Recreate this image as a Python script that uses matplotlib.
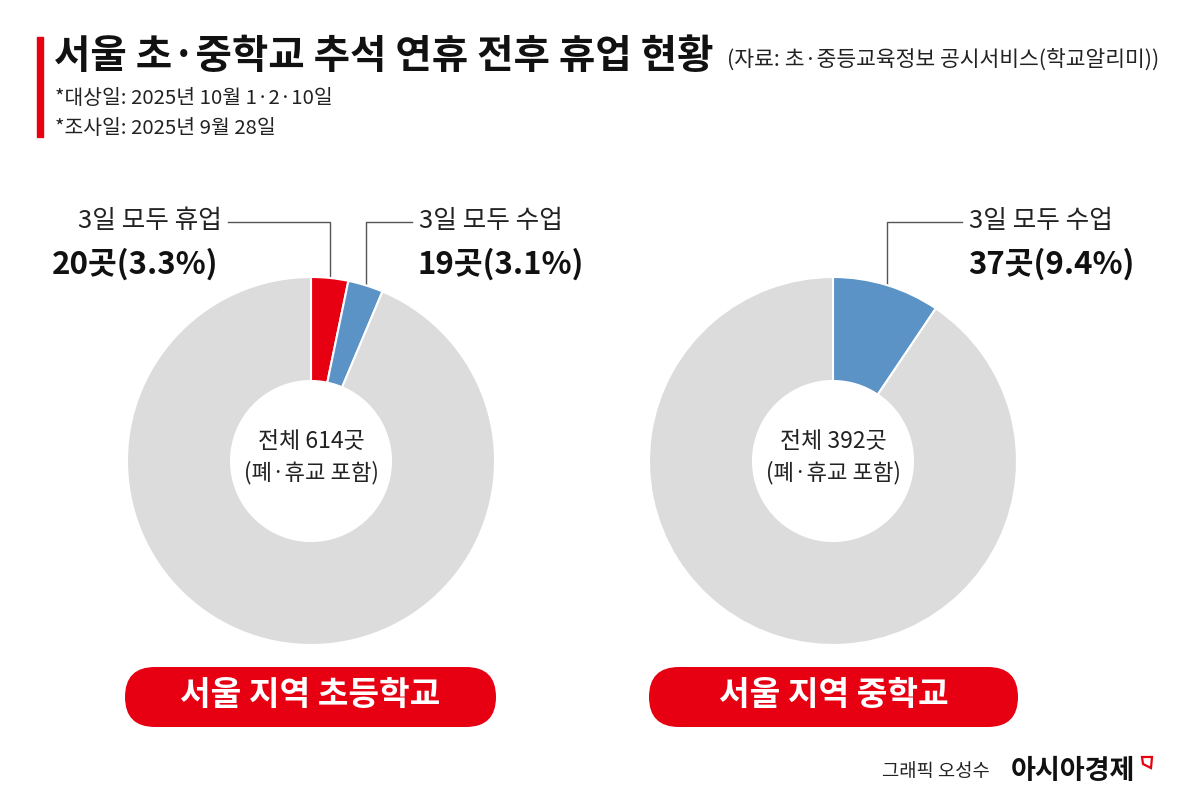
import numpy as np
import matplotlib
matplotlib.use("Agg")
import matplotlib.pyplot as plt
from matplotlib.patches import FancyBboxPatch, Polygon

plt.rcParams['font.family'] = ['Noto Sans CJK KR', 'DejaVu Sans']

# data
elem_labels = ['3일 모두 휴업', '3일 모두 수업', '기타']
elem_values = [20, 19, 575]
elem_total = 614
mid_labels = ['3일 모두 수업', '기타']
mid_values = [37, 355]
mid_total = 392

RED = '#e60012'
BLUE = '#5b93c7'
GRAY = '#dcdcdc'

W, H = 1189, 810
fig = plt.figure(figsize=(W / 100, H / 100), dpi=100)
fig.patch.set_facecolor('white')

# background axes in pixel coords
bg = fig.add_axes([0, 0, 1, 1])
bg.set_xlim(0, W)
bg.set_ylim(H, 0)
bg.axis('off')

R = 184  # outer radius in px
HOLE = 80


def donut(cx, cy, values, colors):
    ax = fig.add_axes([(cx - R) / W, 1 - (cy + R) / H, 2 * R / W, 2 * R / H])
    ax.pie(values, colors=colors, startangle=90, counterclock=False, radius=1,
           wedgeprops=dict(width=1 - HOLE / R, edgecolor='white', linewidth=1.5))
    ax.set_xlim(-1, 1)
    ax.set_ylim(-1, 1)
    ax.set_aspect('equal')
    ax.axis('off')
    return ax


def leader(cx, cy, values, idx, line_y, line_x_end):
    # line from wedge mid-angle (outer edge) up to line_y, then horizontal
    total = sum(values)
    start = sum(values[:idx]) / total
    frac = start + values[idx] / total / 2
    ang = np.deg2rad(90 - frac * 360)
    px = cx + R * np.cos(ang)
    py = cy - R * np.sin(ang)
    bg.plot([px, px, line_x_end], [py, line_y, line_y], color='#555555', lw=1, zorder=5)


# title block
bg.add_patch(plt.Rectangle((37, 37), 6, 100, color=RED))
bg.text(54, 57, '서울 초·중학교 추석 연휴 전후 휴업 현황', fontsize=28.5, fontweight='bold',
        va='center', ha='left', color='#111111')
bg.text(727, 60, '(자료: 초·중등교육정보 공시서비스(학교알리미))', fontsize=15.5,
        va='center', ha='left', color='#222222')
bg.text(55, 99, '*대상일: 2025년 10월 1·2·10일', fontsize=14.7, va='center', ha='left', color='#222222')
bg.text(55, 129, '*조사일: 2025년 9월 28일', fontsize=14.7, va='center', ha='left', color='#222222')

# left donut
lcx, lcy = 311, 461
donut(lcx, lcy, elem_values, [RED, BLUE, GRAY])
leader(lcx, lcy, elem_values, 0, 222, 228)
leader(lcx, lcy, elem_values, 1, 222, 412)
bg.text(222, 221, elem_labels[0], fontsize=18.5, ha='right', va='center', color='#222222')
bg.text(218, 264, f'{elem_values[0]}곳({elem_values[0] / elem_total * 100:.1f}%)', fontsize=22.5,
        fontweight='bold', ha='right', va='center', color='#111111')
bg.text(419, 221, elem_labels[1], fontsize=18.5, ha='left', va='center', color='#222222')
bg.text(418, 264, f'{elem_values[1]}곳({elem_values[1] / elem_total * 100:.1f}%)', fontsize=22.5,
        fontweight='bold', ha='left', va='center', color='#111111')
bg.text(lcx, 441, f'전체 {elem_total}곳', fontsize=16.5, ha='center', va='center', color='#222222')
bg.text(lcx, 473, '(폐·휴교 포함)', fontsize=16, ha='center', va='center', color='#222222')

# right donut
rcx, rcy = 833, 461
donut(rcx, rcy, mid_values, [BLUE, GRAY])
leader(rcx, rcy, mid_values, 0, 222, 962)
bg.text(969, 221, mid_labels[0], fontsize=18.5, ha='left', va='center', color='#222222')
bg.text(968, 264, f'{mid_values[0]}곳({mid_values[0] / mid_total * 100:.1f}%)', fontsize=22.5,
        fontweight='bold', ha='left', va='center', color='#111111')
bg.text(rcx, 441, f'전체 {mid_total}곳', fontsize=16.5, ha='center', va='center', color='#222222')
bg.text(rcx, 473, '(폐·휴교 포함)', fontsize=16, ha='center', va='center', color='#222222')

# pills
for x0, x1, label in [(125, 496, '서울 지역 초등학교'), (649, 1018, '서울 지역 중학교')]:
    bg.add_patch(FancyBboxPatch((x0, 667), x1 - x0, 60,
                                boxstyle='round,pad=0,rounding_size=30',
                                facecolor=RED, edgecolor='none'))
    bg.text((x0 + x1) / 2, 695, label, fontsize=24, fontweight='bold', color='white',
            ha='center', va='center')

# credit
bg.text(990, 772, '그래픽 오성수', fontsize=13.5, ha='right', va='center', color='#222222')
bg.text(1011, 771, '아시아경제', fontsize=19.5, fontweight='bold', ha='left', va='center', color='#111111')
bg.add_patch(Polygon([[1142, 757], [1152, 757], [1151, 768], [1143, 764]], closed=True,
                     facecolor='none', edgecolor=RED, lw=1.6))

fig.savefig('out.png', dpi=100, facecolor='white')
